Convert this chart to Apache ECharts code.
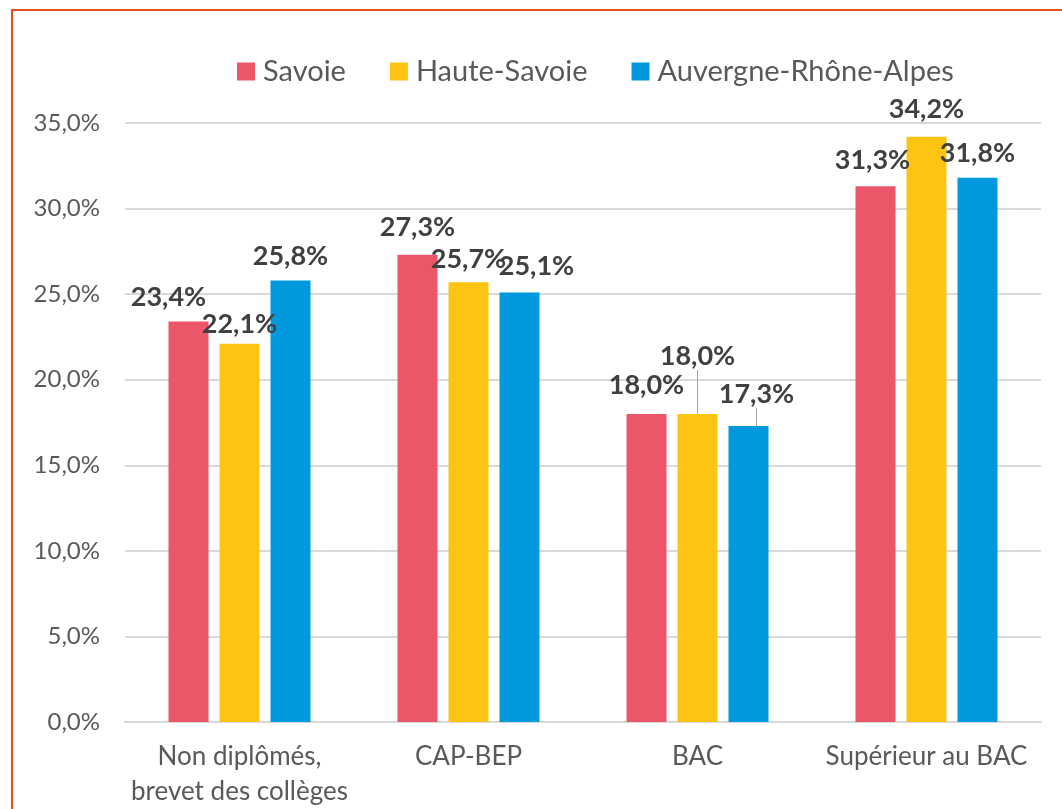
<!DOCTYPE html>
<html style="height: 100%">
<head>
<meta charset="utf-8">
<script src="https://cdn.jsdelivr.net/npm/echarts@6/dist/echarts.min.js"></script>
</head>
<body style="height: 100%; margin: 0; background: #fff; overflow: hidden">
<div id="frame" style="position: absolute; left: 11px; top: 9px; width: 1060px; height: 810px; border: 2px solid #E5501A; box-sizing: border-box"></div>
<div id="container" style="position: absolute; left: 0; top: 0; width: 1062px; height: 809px"></div>
<script type="text/javascript">
var categories = ['Non diplômés,\nbrevet des collèges', 'CAP-BEP', 'BAC', 'Supérieur au BAC'];
var seriesNames = ['Savoie', 'Haute-Savoie', 'Auvergne-Rhône-Alpes'];
var savoie = [23.4, 27.3, 18.0, 31.3];
var hauteSavoie = [22.1, 25.7, 18.0, 34.2];
var ara = [25.8, 25.1, 17.3, 31.8];
var colors = ['#EC5669', '#FDC414', '#0099DD'];

// label nudges (dx, dy) per series and category, as placed in the original
var labelShift = [
    [[-20, -5], [0, -8], [0, -9], [-3, -7]],
    [[0, 0], [0, -3], [0, -38], [0, -8]],
    [[0, -5], [17, -7], [8, -12], [0, -5]]
];
var withLine = [
    [false, false, false, false],
    [false, false, true, false],
    [false, false, true, false]
];

var fontName = 'Lato, "Open Sans", sans-serif';
var dom = document.getElementById('container');
var myChart = echarts.init(dom);

var fmt = function (v) {
    return v.toFixed(1).replace('.', ',') + '%';
};

var makeSeries = function (idx, values) {
    return {
        name: seriesNames[idx],
        type: 'bar',
        barWidth: 40,
        barGap: '27.5%',
        itemStyle: { color: colors[idx] },
        data: values.map(function (v, i) {
            return {
                value: v,
                labelLine: {
                    show: withLine[idx][i],
                    lineStyle: { color: '#a6a6a6', width: 1 }
                }
            };
        }),
        label: {
            show: true,
            position: 'top',
            distance: 6,
            fontFamily: fontName,
            fontWeight: 'bold',
            fontSize: 27,
            color: '#404040',
            formatter: function (p) { return fmt(p.value); }
        },
        labelLayout: function (p) {
            var s = labelShift[idx][p.dataIndex];
            return { dx: s[0], dy: s[1] };
        }
    };
};

var option = {
    animation: false,
    backgroundColor: 'transparent',
    textStyle: { fontFamily: fontName },
    legend: {
        top: 52,
        left: 232,
        itemWidth: 18,
        itemHeight: 18,
        itemGap: 44,
        icon: 'rect',
        textStyle: { fontSize: 29, color: '#595959', fontFamily: fontName, padding: [0, 0, 0, 3] },
        data: seriesNames
    },
    grid: {
        left: 125,
        right: 21,
        top: 123,
        bottom: 81,
        containLabel: false
    },
    xAxis: {
        type: 'category',
        data: categories,
        axisTick: { show: false },
        axisLine: { lineStyle: { color: '#d9d9d9', width: 2 } },
        axisLabel: {
            interval: 0,
            fontSize: 26,
            color: '#595959',
            margin: 17,
            lineHeight: 35,
            fontFamily: fontName
        }
    },
    yAxis: {
        type: 'value',
        min: 0,
        max: 35,
        interval: 5,
        axisLine: { show: false },
        axisTick: { show: false },
        splitLine: { lineStyle: { color: '#d9d9d9', width: 2 } },
        axisLabel: {
            fontSize: 24,
            color: '#595959',
            margin: 25,
            fontFamily: fontName,
            formatter: function (v) { return fmt(v); }
        }
    },
    series: [
        makeSeries(0, savoie),
        makeSeries(1, hauteSavoie),
        makeSeries(2, ara)
    ]
};
myChart.setOption(option, true);
</script>
</body>
</html>
